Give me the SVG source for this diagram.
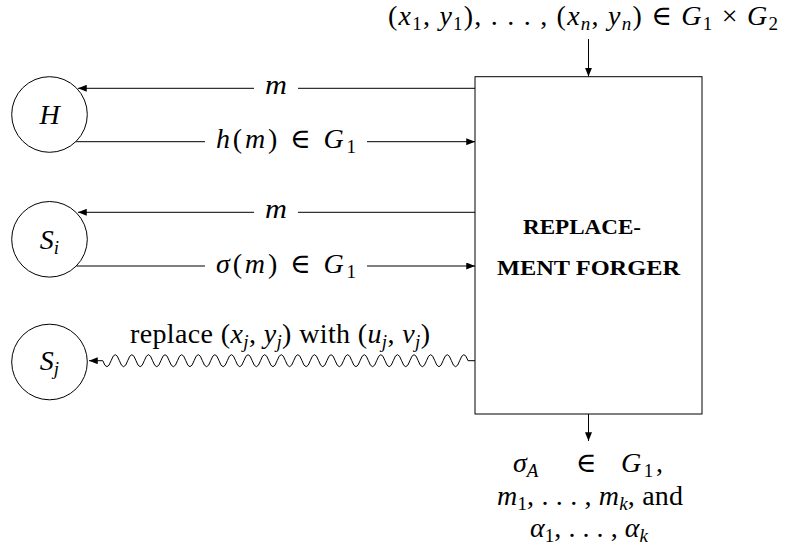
<svg xmlns="http://www.w3.org/2000/svg" width="791" height="558" viewBox="0 0 791 558">
<style>
.t{font-family:"Liberation Serif","DejaVu Serif",serif;font-size:28px;fill:#000}
.i{font-style:italic}
.s{font-size:19px}
.b{font-family:"Liberation Serif","DejaVu Serif",serif;font-size:20px;font-weight:bold;fill:#000}
.ln{fill:none;stroke:#000;stroke-width:1}
.nd{fill:#fff;stroke:#000;stroke-width:1}
</style>
<defs>
<marker id="ah" viewBox="0 0 10 8" refX="10" refY="4" markerUnits="userSpaceOnUse" markerWidth="9" markerHeight="7" orient="auto">
<path d="M0,0 L10,4 L0,8 z" fill="#000"/>
</marker>
</defs>
<rect width="791" height="558" fill="#fff"/>
<g id="connectors" class="ln">
<path d="M588.5 39 V76.5" marker-end="url(#ah)"/>
<path d="M475 88.3 H298"/>
<path d="M254 88.3 H78" marker-end="url(#ah)"/>
<path d="M75.7 141.7 H205"/>
<path d="M367 141.7 H475" marker-end="url(#ah)"/>
<path d="M475 212.3 H298"/>
<path d="M254 212.3 H78" marker-end="url(#ah)"/>
<path d="M76.3 266 H205"/>
<path d="M367 266 H475" marker-end="url(#ah)"/>
<path d="M475 360.7 H468 q -4.15 -12 -8.3 0 t -8.3 0 t -8.3 0 t -8.3 0 t -8.3 0 t -8.3 0 t -8.3 0 t -8.3 0 t -8.3 0 t -8.3 0 t -8.3 0 t -8.3 0 t -8.3 0 t -8.3 0 t -8.3 0 t -8.3 0 t -8.3 0 t -8.3 0 t -8.3 0 t -8.3 0 t -8.3 0 t -8.3 0 t -8.3 0 t -8.3 0 t -8.3 0 t -8.3 0 t -8.3 0 t -8.3 0 t -8.3 0 t -8.3 0 t -8.3 0 t -8.3 0 t -8.3 0 t -8.3 0 t -8.3 0 t -8.3 0 t -8.3 0 t -8.3 0 t -8.3 0 t -8.3 0 t -8.3 0 t -8.3 0 t -8.3 0 t -8.3 0 H89" marker-end="url(#ah)"/>
<path d="M588.5 414 V441" marker-end="url(#ah)"/>
</g>
<g id="labels">
<text class="t" x="583" y="25" text-anchor="middle" textLength="390">(<tspan class="i">x</tspan><tspan class="s" dy="5">1</tspan><tspan dy="-5">, </tspan><tspan class="i">y</tspan><tspan class="s" dy="5">1</tspan><tspan dy="-5">), . . . , (</tspan><tspan class="i">x</tspan><tspan class="s i" dy="5">n</tspan><tspan dy="-5">, </tspan><tspan class="i">y</tspan><tspan class="s i" dy="5">n</tspan><tspan dy="-5">)  ∈  </tspan><tspan class="i">G</tspan><tspan class="s" dy="5">1</tspan><tspan dy="-5"> × </tspan><tspan class="i">G</tspan><tspan class="s" dy="5">2</tspan></text>
<text class="t i" x="276" y="94" text-anchor="middle" textLength="22" lengthAdjust="spacingAndGlyphs">m</text>
<text class="t" x="286" y="148" text-anchor="middle" textLength="140"><tspan class="i">h</tspan>(<tspan class="i">m</tspan>) ∈ <tspan class="i">G</tspan><tspan class="s" dy="5">1</tspan></text>
<text class="t i" x="276" y="218" text-anchor="middle" textLength="22" lengthAdjust="spacingAndGlyphs">m</text>
<text class="t" x="286" y="272.5" text-anchor="middle" textLength="140"><tspan class="i">σ</tspan>(<tspan class="i">m</tspan>) ∈ <tspan class="i">G</tspan><tspan class="s" dy="5">1</tspan></text>
<text class="t" x="280" y="343" text-anchor="middle" textLength="300">replace (<tspan class="i">x</tspan><tspan class="s i" dy="5">j</tspan><tspan dy="-5">, </tspan><tspan class="i">y</tspan><tspan class="s i" dy="5">j</tspan><tspan dy="-5">) with (</tspan><tspan class="i">u</tspan><tspan class="s i" dy="5">j</tspan><tspan dy="-5">, </tspan><tspan class="i">v</tspan><tspan class="s i" dy="5">j</tspan><tspan dy="-5">)</tspan></text>
<text class="t" x="513" y="472"><tspan class="i">σ</tspan><tspan class="s i" dy="5">A</tspan></text>
<text class="t" x="586" y="472" text-anchor="middle">∈</text>
<text class="t" x="621" y="472" textLength="42"><tspan class="i">G</tspan><tspan class="s" dy="5">1</tspan><tspan dy="-5">,</tspan></text>
<text class="t" x="497" y="505" textLength="186"><tspan class="i">m</tspan><tspan class="s" dy="5">1</tspan><tspan dy="-5">, . . . , </tspan><tspan class="i">m</tspan><tspan class="s i" dy="5">k</tspan><tspan dy="-5">, and</tspan></text>
<text class="t" x="530" y="537" textLength="118"><tspan class="i">α</tspan><tspan class="s" dy="5">1</tspan><tspan dy="-5">, . . . , </tspan><tspan class="i">α</tspan><tspan class="s i" dy="5">k</tspan></text>
</g>
<g id="H">
<circle class="nd" cx="49.5" cy="114.5" r="37.8"/>
<text class="t i" x="49.5" y="124" text-anchor="middle">H</text>
</g>
<g id="Si">
<circle class="nd" cx="49.5" cy="239.3" r="37.8"/>
<text class="t" x="49.5" y="249" text-anchor="middle"><tspan class="i">S</tspan><tspan class="s i" dy="5">i</tspan></text>
</g>
<g id="Sj">
<circle class="nd" cx="49.5" cy="362" r="37.8"/>
<text class="t" x="49.5" y="370" text-anchor="middle"><tspan class="i">S</tspan><tspan class="s i" dy="5">j</tspan></text>
</g>
<g id="forger">
<rect class="nd" x="475" y="76.7" width="227" height="337.3"/>
<text class="b" x="582" y="233.5" text-anchor="middle" textLength="118" lengthAdjust="spacingAndGlyphs">REPLACE-</text>
<text class="b" x="588.5" y="274.5" text-anchor="middle" textLength="183" lengthAdjust="spacingAndGlyphs">MENT FORGER</text>
</g>
</svg>
